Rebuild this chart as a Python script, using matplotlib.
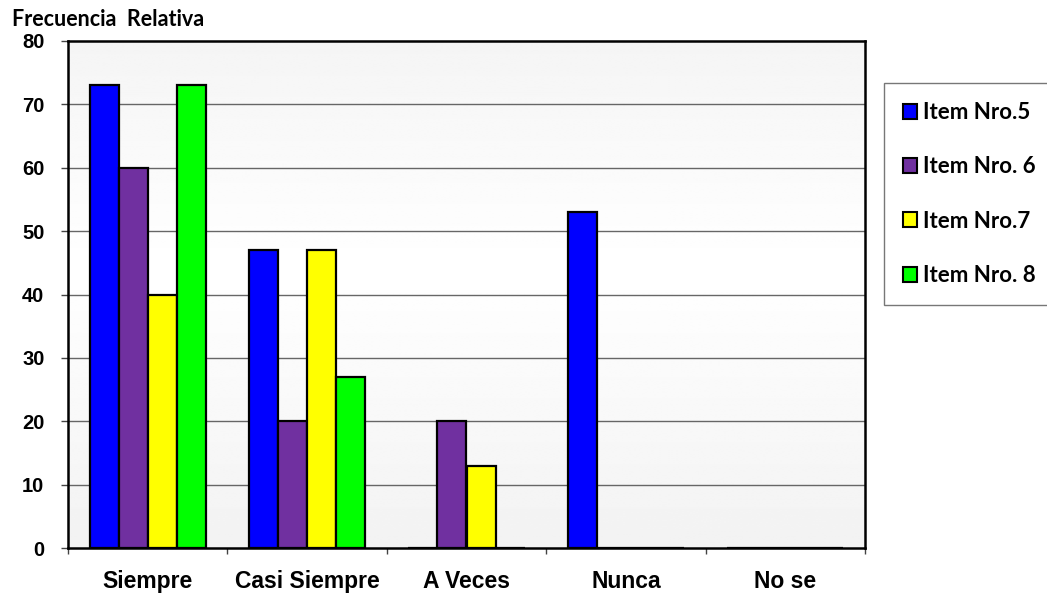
import numpy as np
import matplotlib
matplotlib.use("Agg")
import matplotlib.pyplot as plt
from matplotlib.patches import Patch

categories = ["Siempre", "Casi Siempre", "A Veces", "Nunca", "No se"]
series_names = ["Item Nro.5", "Item Nro. 6", "Item Nro.7", "Item Nro. 8"]
item5 = [73, 47, 0, 53, 0]
item6 = [60, 20, 20, 0, 0]
item7 = [40, 47, 13, 0, 0]
item8 = [73, 27, 0, 0, 0]
yticks = [0, 10, 20, 30, 40, 50, 60, 70, 80]
colors = ["#0000FF", "#7030A0", "#FFFF00", "#00FF00"]

series = [item5, item6, item7, item8]

fig = plt.figure(figsize=(10.47, 5.96), dpi=100)
ax = fig.add_axes([68/1047, 48/596, 797/1047, 507/596])

n = len(categories)
ax.set_xlim(0, n)
ax.set_ylim(0, 80)

# gradient background
t = np.linspace(0, 1, 256)
g = 0.95 + 0.05 * (1 - np.abs(t - 0.55) / 0.55)
g = np.clip(g, 0, 1)
img = np.repeat(g[:, None], 2, axis=1)
ax.imshow(img, cmap="gray", vmin=0, vmax=1, extent=[0, n, 0, 80],
          aspect="auto", origin="lower", zorder=0, interpolation="bilinear")

for y in yticks[1:-1]:
    ax.axhline(y, color="#666666", lw=1.0, zorder=1)

bw = 0.182
x = np.arange(n) + 0.5
for i, (vals, c, name) in enumerate(zip(series, colors, series_names)):
    ax.bar(x + (i - 1.5) * bw, vals, width=bw, color=c, edgecolor="black",
           linewidth=1.6, zorder=3, label=name)

for s in ax.spines.values():
    s.set_linewidth(1.8)
    s.set_color("black")
    s.set_zorder(5)

ax.set_yticks(yticks)
ax.set_yticklabels([str(v) for v in yticks], fontfamily="Liberation Sans",
                   fontweight="bold", fontsize=14.5)
ax.tick_params(axis="y", length=5, width=1, color="#444444", pad=12)

ax.set_xticks(np.arange(n + 1))
ax.set_xticklabels([])
ax.tick_params(axis="x", which="major", length=4.5, width=1, color="#444444")
ax.set_xticks(x, minor=True)
ax.set_xticklabels(categories, minor=True, fontfamily="Liberation Sans",
                   fontweight="bold", fontsize=16.5)
ax.tick_params(axis="x", which="minor", length=0, pad=16)

fig.text(12/1047, 1 - 20/596, "Frecuencia  Relativa", fontfamily="Lato",
         fontweight="bold", fontsize=15.5, va="center", ha="left")

handles = [Patch(facecolor=c, edgecolor="black", linewidth=1.5) for c in colors]
leg = fig.legend(handles, series_names, loc="upper left",
                 bbox_to_anchor=(884/1047, 1 - 83/596),
                 prop={"family": "Lato", "weight": "bold", "size": 16},
                 frameon=True, fancybox=False, edgecolor="#555555",
                 handlelength=0.65, handleheight=0.65, handletextpad=0.25,
                 labelspacing=1.5, borderpad=0.85, borderaxespad=0)
leg.get_frame().set_linewidth(1.0)

fig.savefig("out.png", dpi=100)
